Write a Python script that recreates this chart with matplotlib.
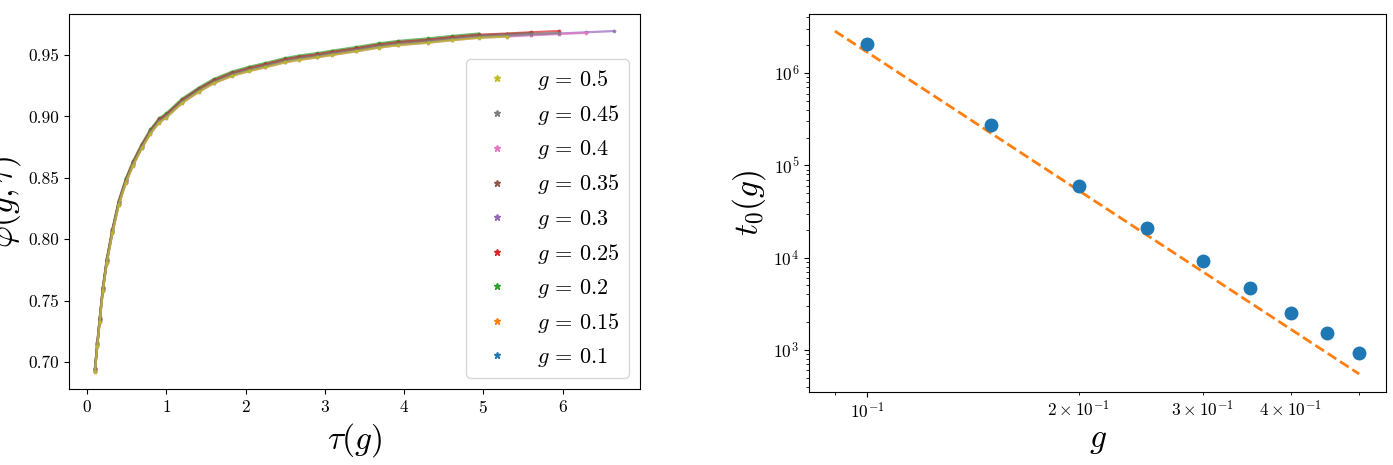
import matplotlib
matplotlib.use("Agg")
import matplotlib.pyplot as plt
import numpy as np
from matplotlib.lines import Line2D

plt.rcParams.update({
    "font.family": "serif",
    "font.serif": ["cmr10"],
    "mathtext.fontset": "cm",
    "axes.formatter.use_mathtext": True,
    "axes.unicode_minus": False,
})

# left panel: collapsed curves phi(g, tau)
g_values = [0.1, 0.15, 0.2, 0.25, 0.3, 0.35, 0.4, 0.45, 0.5]
tau_end = [1.45, 5.25, 4.95, 5.95, 6.65, 5.6, 6.3, 6.0, 5.35]
phi_shift = [0.0, -0.001, 0.0015, 0.0005, -0.0015, 0.0, -0.002, -0.001, -0.002]
tau_curve = [0.10, 0.13, 0.16, 0.20, 0.25, 0.32, 0.40, 0.49, 0.58, 0.69, 0.80,
             0.91, 1.0, 1.2, 1.41, 1.6, 1.83, 2.05, 2.25, 2.5, 2.67, 2.9, 3.09,
             3.4, 3.68, 3.93, 4.3, 4.6, 4.94, 5.3, 5.6, 5.95, 6.3, 6.65]
phi_curve = [0.694, 0.715, 0.735, 0.760, 0.783, 0.807, 0.830, 0.848, 0.862,
             0.876, 0.888, 0.897, 0.901, 0.913, 0.922, 0.929, 0.935, 0.939,
             0.942, 0.946, 0.948, 0.950, 0.952, 0.955, 0.958, 0.960, 0.962,
             0.964, 0.966, 0.967, 0.968, 0.969, 0.970, 0.971]

# right panel: t0(g) and the dashed power-law guide
t0_values = [2.06e6, 2.71e5, 6.0e4, 2.1e4, 9.2e3, 4.7e3, 2.5e3, 1.53e3, 930]
fit_g = [0.09, 0.5]
fit_t0 = [2.85e6, 550]

left_yticks = [0.70, 0.75, 0.80, 0.85, 0.90, 0.95]
left_xticks = [0, 1, 2, 3, 4, 5, 6]

fig = plt.figure(figsize=(13.93, 4.65), dpi=100)
ax1 = fig.add_axes([69 / 1393, 1 - 389 / 465, 571 / 1393, 375 / 465])
ax2 = fig.add_axes([809 / 1393, 1 - 391.7 / 465, 577 / 1393, 377.7 / 465])

tau_arr = np.array(tau_curve)
phi_arr = np.array(phi_curve)
for i, g in enumerate(g_values):
    keep = tau_arr <= tau_end[i] + 1e-9
    ax1.plot(tau_arr[keep], phi_arr[keep] + phi_shift[i], color=f"C{i}",
             lw=1.6, alpha=0.7, marker="*", ms=2.5, label=rf"$g\,=\,{g}$")

# legend shows star markers only, largest g on top
handles, labels = ax1.get_legend_handles_labels()
leg_handles = [Line2D([], [], ls="none", marker="*", ms=5, color=h.get_color())
               for h in handles[::-1]]
ax1.legend(leg_handles, labels[::-1], loc="lower right", fontsize=16)
ax1.set_xticks(left_xticks)
ax1.set_yticks(left_yticks)
ax1.set_yticklabels([f"{v:.2f}" for v in left_yticks])
ax1.tick_params(labelsize=12.5)
ax1.set_xlabel(r"$\tau(g)$", fontsize=24)
ax1.set_ylabel(r"$\varphi(g,\tau)$", fontsize=24)

ax2.plot(fit_g, fit_t0, "--", color="C1", lw=2)
ax2.plot(g_values, t0_values, "o", color="C0", ms=9)
ax2.set_xscale("log")
ax2.set_yscale("log")
ax2.set_xlim(0.0827, 0.546)
ax2.set_ylim(353, 4.36e6)
ax2.tick_params(which="both", labelsize=12.5)
ax2.set_xlabel(r"$g$", fontsize=24)
ax2.set_ylabel(r"$t_0(g)$", fontsize=24)

fig.savefig("out.png", dpi=100)
